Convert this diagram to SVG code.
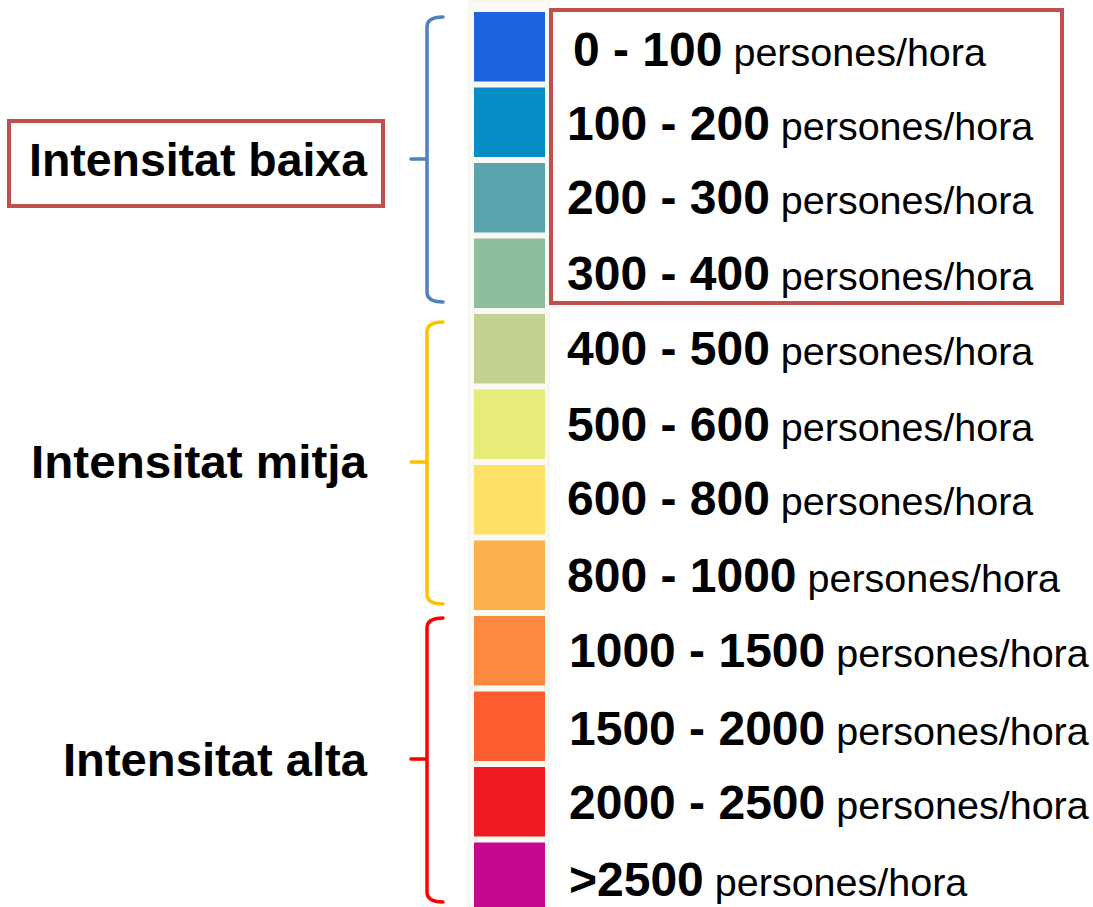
<svg xmlns="http://www.w3.org/2000/svg" width="1093" height="907" viewBox="0 0 1093 907">
<style>
.num{font-family:"Liberation Sans",Arial,sans-serif;font-weight:bold;font-size:48px;fill:#000}
.unit{font-family:"Liberation Sans",Arial,sans-serif;font-weight:normal;font-size:39.5px;fill:#000}
.lab{font-family:"Liberation Sans",Arial,sans-serif;font-weight:bold;font-size:47px;fill:#000;text-anchor:end}
.box{fill:none;stroke:#c0504d;stroke-width:4}
.br{fill:none;stroke-width:3.5;stroke-linecap:round;stroke-linejoin:round}
</style>
<rect x="0" y="0" width="1093" height="907" fill="#fff"/>
<rect x="469" y="0" width="80" height="907" fill="#fafaf3" stroke="#f0f0ec" stroke-width="1"/>
<g id="connectors">
  <path class="br" stroke="#4f81bd" d="M443,17 Q427,17 427,27 V292 Q427,302 443,302 M411,159 H427"/>
  <path class="br" stroke="#ffc000" d="M443,322 Q427,322 427,332 V594 Q427,604 443,604 M411,462 H427"/>
  <path class="br" stroke="#ff0000" d="M443,618 Q427,618 427,628 V892 Q427,902 443,902 M411,759 H427"/>
</g>
<g id="label-baixa">
  <rect class="box" x="9" y="121" width="374" height="85"/>
  <text class="lab" x="367" y="176" textLength="338" lengthAdjust="spacingAndGlyphs">Intensitat baixa</text>
</g>
<g id="label-mitja">
  <text class="lab" x="367" y="478" textLength="336" lengthAdjust="spacingAndGlyphs">Intensitat mitja</text>
</g>
<g id="label-alta">
  <text class="lab" x="367" y="776" textLength="304" lengthAdjust="spacingAndGlyphs">Intensitat alta</text>
</g>
<g id="highlight-box">
  <rect class="box" x="551" y="10" width="511" height="293"/>
</g>
<g id="row1"><rect x="474" y="12" width="71" height="69.5" fill="#1d63e0"/><text x="573" y="66"><tspan class="num">0 - 100</tspan><tspan class="unit"> persones/hora</tspan></text></g>
<g id="row2"><rect x="474" y="87.5" width="71" height="69.5" fill="#078dc6"/><text x="567" y="140"><tspan class="num">100 - 200</tspan><tspan class="unit"> persones/hora</tspan></text></g>
<g id="row3"><rect x="474" y="163" width="71" height="69.5" fill="#5aa4ae"/><text x="567" y="214"><tspan class="num">200 - 300</tspan><tspan class="unit"> persones/hora</tspan></text></g>
<g id="row4"><rect x="474" y="238.5" width="71" height="69.5" fill="#8fbe9e"/><text x="567" y="290"><tspan class="num">300 - 400</tspan><tspan class="unit"> persones/hora</tspan></text></g>
<g id="row5"><rect x="474" y="314" width="71" height="69.5" fill="#c2d192"/><text x="567" y="365"><tspan class="num">400 - 500</tspan><tspan class="unit"> persones/hora</tspan></text></g>
<g id="row6"><rect x="474" y="389.5" width="71" height="69.5" fill="#e6eb79"/><text x="567" y="441"><tspan class="num">500 - 600</tspan><tspan class="unit"> persones/hora</tspan></text></g>
<g id="row7"><rect x="474" y="465" width="71" height="69.5" fill="#fee066"/><text x="567" y="515"><tspan class="num">600 - 800</tspan><tspan class="unit"> persones/hora</tspan></text></g>
<g id="row8"><rect x="474" y="540.5" width="71" height="69.5" fill="#fdb04e"/><text x="567" y="592"><tspan class="num">800 - 1000</tspan><tspan class="unit"> persones/hora</tspan></text></g>
<g id="row9"><rect x="474" y="616" width="71" height="69.5" fill="#fd883f"/><text x="569" y="667"><tspan class="num">1000 - 1500</tspan><tspan class="unit"> persones/hora</tspan></text></g>
<g id="row10"><rect x="474" y="691.5" width="71" height="69.5" fill="#fc5c2e"/><text x="569" y="745"><tspan class="num">1500 - 2000</tspan><tspan class="unit"> persones/hora</tspan></text></g>
<g id="row11"><rect x="474" y="767" width="71" height="69.5" fill="#ee1b24"/><text x="569" y="819"><tspan class="num">2000 - 2500</tspan><tspan class="unit"> persones/hora</tspan></text></g>
<g id="row12"><rect x="474" y="842.5" width="71" height="69.5" fill="#c40890"/><text x="569" y="896"><tspan class="num">&gt;2500</tspan><tspan class="unit"> persones/hora</tspan></text></g>
</svg>
